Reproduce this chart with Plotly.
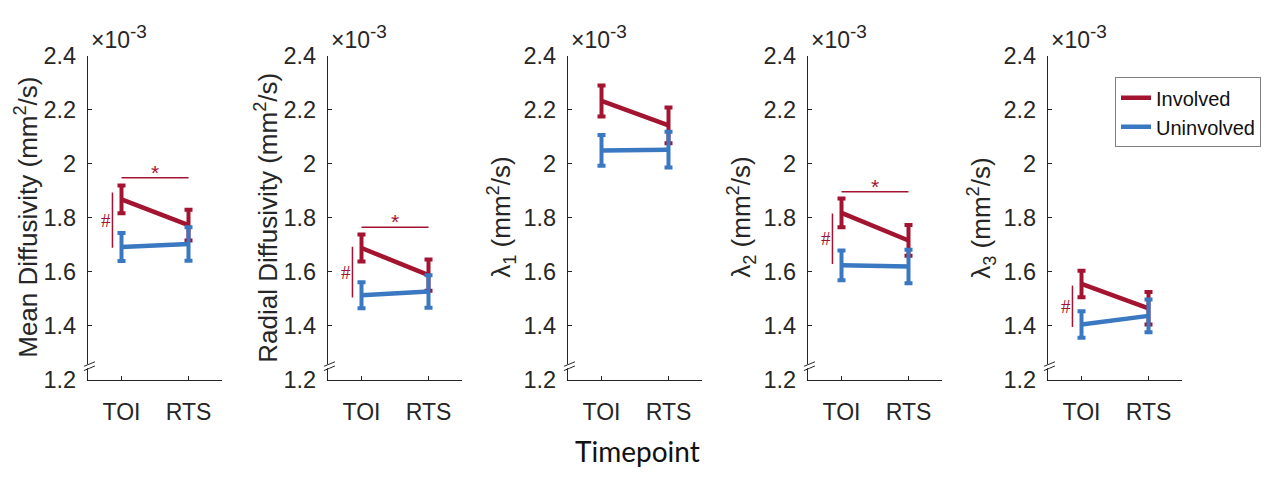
import plotly.graph_objects as go

# ---------------- data (values in units of 1e-3 mm^2/s) ----------------
timepoints = ["TOI", "RTS"]
x_pos = [1, 2]
panel_titles = [
    "Mean Diffusivity (mm<sup>2</sup>/s)",
    "Radial Diffusivity (mm<sup>2</sup>/s)",
    "λ<sub>1</sub> (mm<sup>2</sup>/s)",
    "λ<sub>2</sub> (mm<sup>2</sup>/s)",
    "λ<sub>3</sub> (mm<sup>2</sup>/s)",
]
involved_mean = [[1.868, 1.773], [1.688, 1.588], [2.232, 2.142], [1.818, 1.716], [1.555, 1.465]]
involved_err = [[0.051, 0.057], [0.050, 0.058], [0.057, 0.066], [0.053, 0.057], [0.049, 0.060]]
uninvolved_mean = [[1.692, 1.703], [1.513, 1.527], [2.049, 2.052], [1.624, 1.620], [1.405, 1.437]]
uninvolved_err = [[0.052, 0.062], [0.048, 0.060], [0.057, 0.066], [0.055, 0.062], [0.049, 0.061]]
# significance: '*' bar level (None = no bar), '#' vertical range
star_level = [1.948, 1.765, None, 1.896, None]
hash_range = [[1.689, 1.893], [1.505, 1.693], None, [1.629, 1.816], [1.396, 1.549]]
y_ticks = [1.2, 1.4, 1.6, 1.8, 2.0, 2.2, 2.4]
y_tick_text = ["1.2", "1.4", "1.6", "1.8", "2", "2.2", "2.4"]
y_range = [1.2, 2.4]

# ---------------- style ----------------
RED = "#A2142F"
BLUE = "#3A78C2"
AX = "#262626"
TXT = "#262626"
FONT = "Liberation Sans, Arial, sans-serif"
W, H = 1266, 479

axis_left_px = [88, 328, 568, 808, 1048]
axis_w_px = 134
plot_top_px, plot_bot_px = 45, 388
title_offset_px = [61, 61, 67, 67, 67]

fig = go.Figure()

for i in range(5):
    xa = "x" if i == 0 else f"x{i+1}"
    ya = "y" if i == 0 else f"y{i+1}"
    for name, means, errs, col in [
        ("Involved", involved_mean[i], involved_err[i], RED),
        ("Uninvolved", uninvolved_mean[i], uninvolved_err[i], BLUE),
    ]:
        fig.add_trace(go.Scatter(
            x=x_pos, y=means, mode="lines", name=name,
            line=dict(color=col, width=4.5),
            error_y=dict(type="data", array=errs, visible=True, color=col,
                         thickness=4, width=4),
            xaxis=xa, yaxis=ya, showlegend=(i == 0), legendgroup=name,
        ))
    if star_level[i] is not None:
        fig.add_trace(go.Scatter(
            x=x_pos, y=[star_level[i]] * 2, mode="lines",
            line=dict(color=RED, width=1.5), xaxis=xa, yaxis=ya,
            showlegend=False, hoverinfo="skip"))
        fig.add_annotation(x=1.5, y=star_level[i], xref=xa, yref=ya,
                           text="*", showarrow=False, yanchor="bottom",
                           yshift=-8, font=dict(family=FONT, size=21, color=RED))
    if hash_range[i] is not None:
        fig.add_trace(go.Scatter(
            x=[0.865, 0.865], y=hash_range[i], mode="lines",
            line=dict(color=RED, width=1.5), xaxis=xa, yaxis=ya,
            showlegend=False, hoverinfo="skip"))
        fig.add_annotation(x=0.865, y=sum(hash_range[i]) / 2, xref=xa, yref=ya,
                           text="#", showarrow=False, xanchor="right", xshift=1,
                           font=dict(family="Liberation Serif, serif", size=19, color=RED))

    left = axis_left_px[i] / W
    right = (axis_left_px[i] + axis_w_px) / W
    xkey = "xaxis" if i == 0 else f"xaxis{i+1}"
    ykey = "yaxis" if i == 0 else f"yaxis{i+1}"
    fig.update_layout(**{
        xkey: dict(domain=[left, right], anchor=ya, range=[0.5, 2.5],
                   tickvals=x_pos, ticktext=timepoints, showgrid=False,
                   zeroline=False, showline=True, linecolor=AX, linewidth=1.2,
                   ticks="inside", ticklen=4, tickcolor=AX, tickwidth=1,
                   ticklabelstandoff=11,
                   tickfont=dict(family=FONT, size=23, color=TXT),
                   fixedrange=True),
        ykey: dict(domain=[1 - plot_bot_px / H, 1 - plot_top_px / H], anchor=xa,
                   range=y_range, tickvals=y_ticks, ticktext=y_tick_text,
                   showgrid=False, zeroline=False, showline=True, linecolor=AX,
                   linewidth=1.2, ticks="inside", ticklen=4, tickcolor=AX,
                   tickwidth=1, ticklabelstandoff=6,
                   tickfont=dict(family=FONT, size=23.5, color=TXT),
                   fixedrange=True),
    })
    fig.add_annotation(x=(axis_left_px[i] - title_offset_px[i]) / W,
                       y=1 - ((plot_top_px + plot_bot_px) / 2) / H,
                       xref="paper", yref="paper", text=panel_titles[i],
                       textangle=-90, showarrow=False, xanchor="center",
                       yanchor="middle",
                       font=dict(family=FONT, size=26, color=TXT))
    fig.add_annotation(x=(axis_left_px[i] + 1) / W, y=1 - 44 / H,
                       xref="paper", yref="paper",
                       text="×10<sup><span style='font-size:19px'>-3</span></sup>",
                       showarrow=False, xanchor="left", yanchor="bottom",
                       font=dict(family=FONT, size=23, color=TXT))
    # axis break marks
    fig.add_shape(type="line", xref=f"{xa} domain", yref=f"{ya} domain",
                  x0=0, x1=0, y0=0.036, y1=0.048, line=dict(color="white", width=3))
    for dy in (0.0, 0.013):
        fig.add_shape(type="line", xref=f"{xa} domain", yref=f"{ya} domain",
                      x0=-0.03, x1=0.052, y0=0.029 + dy, y1=0.043 + dy,
                      line=dict(color=AX, width=1))

fig.add_annotation(x=637 / W, y=1 - 463 / H, xref="paper", yref="paper",
                   text="Timepoint", showarrow=False, xanchor="center",
                   yanchor="middle",
                   font=dict(family="Lato, Open Sans, sans-serif", size=28, color="#111111"))

fig.update_layout(
    width=W, height=H,
    margin=dict(l=0, r=0, t=0, b=0),
    paper_bgcolor="white", plot_bgcolor="white",
    showlegend=True,
    legend=dict(x=1115 / W, y=1 - 68 / H, xanchor="left", yanchor="top",
                bordercolor="#7f7f7f", borderwidth=1, bgcolor="white",
                font=dict(family=FONT, size=20, color="#111111"),
                itemwidth=30, tracegroupgap=0),
)

fig.write_html("out.html")
